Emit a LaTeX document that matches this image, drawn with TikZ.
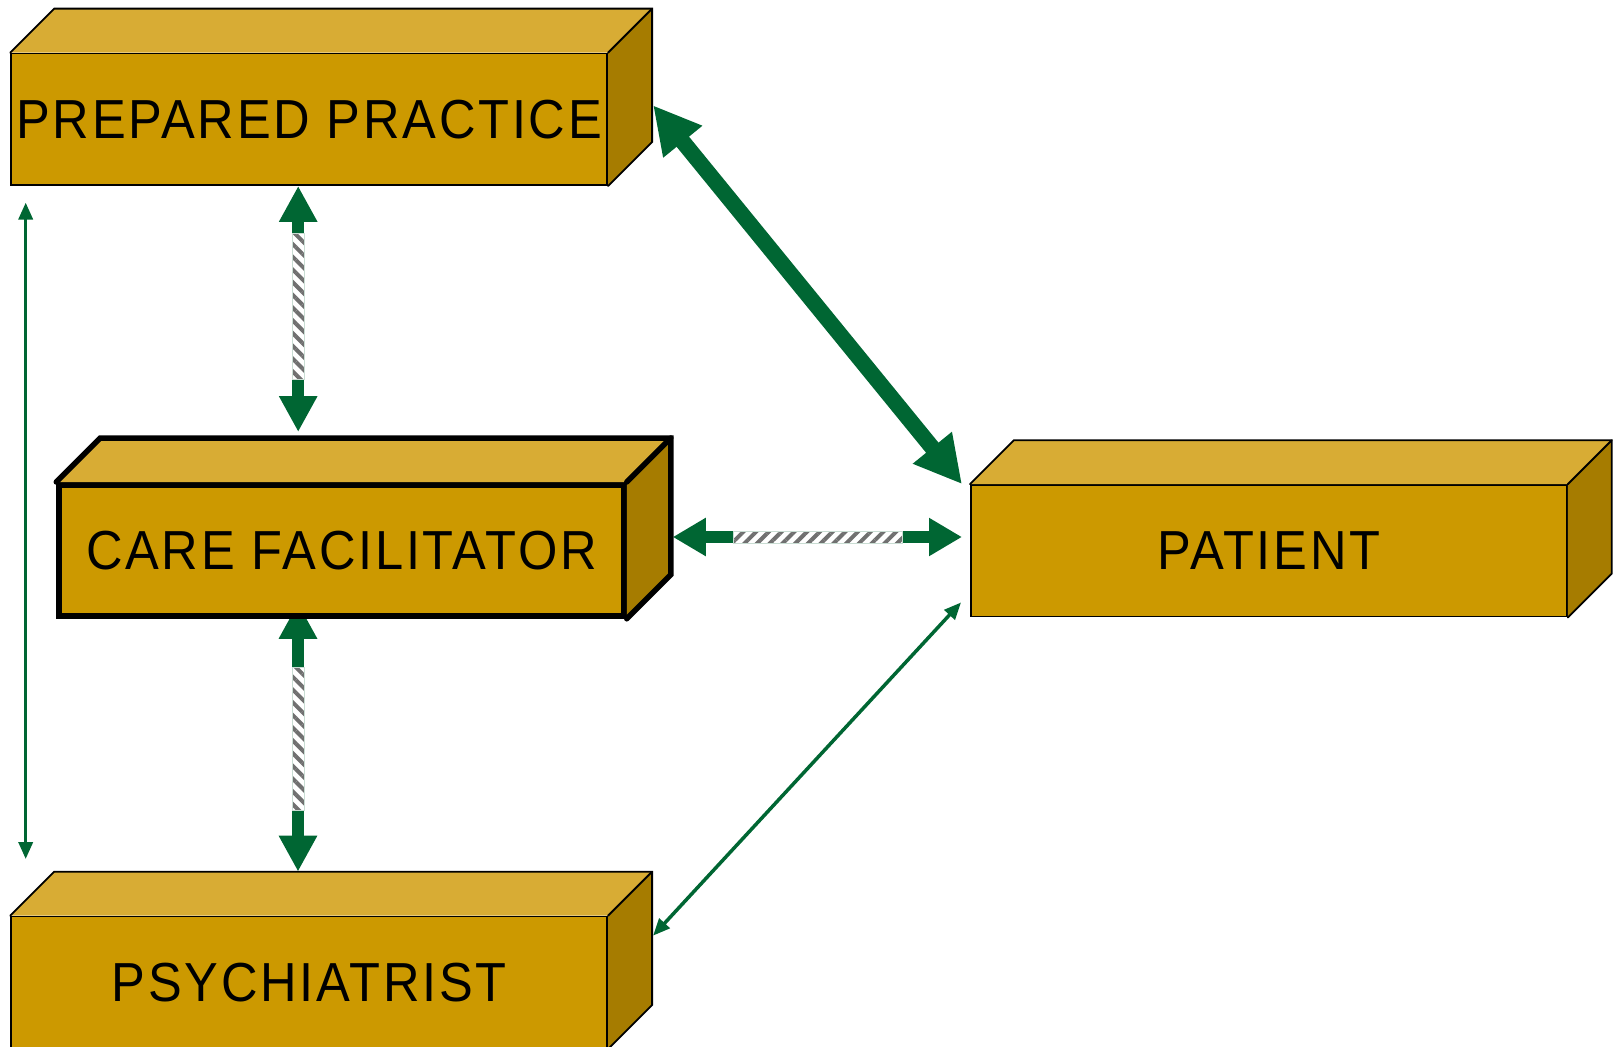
\documentclass[tikz,border=0pt]{standalone}
\usepackage{fontspec}
\setmainfont{Liberation Sans}[FakeStretch=0.92,LetterSpace=5]
\usepackage{tikz}
\usetikzlibrary{arrows.meta,calc,backgrounds,patterns.meta}
\definecolor{gold}{HTML}{CC9900}
\definecolor{goldtop}{HTML}{D8AC34}
\definecolor{goldside}{HTML}{A67C00}
\definecolor{pine}{HTML}{006633}
\definecolor{stripe}{HTML}{707070}
\definecolor{rim}{HTML}{C9DDD3}
\tikzset{
  every node/.style={font=\fontsize{55}{60}\selectfont,text=black},
  block/.style={draw=black,line width=1.8pt,fill=gold,minimum width=596pt,minimum height=131.5pt,inner sep=0pt},
  keyblock/.style={block,line width=5.5pt,minimum width=565pt,minimum height=131.3pt},
  topface/.style={fill=goldtop},
  sideface/.style={fill=goldside},
  rimline/.style={draw=black,line join=miter,line cap=round},
  linkarr/.style={{Triangle[length=36pt,width=36pt]}-{Triangle[length=36pt,width=36pt]},line width=12pt,draw=pine},
  sidearr/.style={{Triangle[length=33pt,width=36pt]}-{Triangle[length=33pt,width=36pt]},line width=12pt,draw=pine},
  mainarr/.style={{Triangle[length=47pt,width=47pt]}-{Triangle[length=47pt,width=47pt]},line width=16pt,draw=pine},
  thinarr/.style={{Triangle[length=17pt,width=14pt]}-{Triangle[length=17pt,width=14pt]},line width=3.5pt,draw=pine},
  vhatch/.style={draw=rim,line width=1pt,preaction={fill=white},pattern={Lines[angle=-45,distance=9pt,line width=4pt]},pattern color=stripe},
  hhatch/.style={vhatch,pattern={Lines[angle=45,distance=9pt,line width=4pt]}}
}
\begin{document}
\begin{tikzpicture}[x=1pt,y=-1pt]
  \useasboundingbox (0,0) rectangle (1613,1046);

  \node[block] (prep) at (309.2,119.3) {PREPARED PRACTICE};
  \node[keyblock] (care) at (341.5,550.4) {CARE FACILITATOR};
  \node[block] (patient) at (1268.9,550.8) {PATIENT};
  \node[block] (psych) at (309.2,982.3) {PSYCHIATRIST};

  \foreach \n/\w in {prep/1.8pt,care/5.5pt,patient/1.8pt,psych/1.8pt}{
    \fill[topface] (\n.north west) -- ++(44,-44) -- ($(\n.north east)+(44,-44)$) -- (\n.north east) -- cycle;
    \fill[sideface] (\n.north east) -- ++(44,-44) -- ($(\n.south east)+(44,-44)$) -- (\n.south east) -- cycle;
    \draw[rimline,line width=\w] (\n.north west) -- ++(44,-44) -- ($(\n.north east)+(44,-44)$) -- ($(\n.south east)+(44,-44)$) -- (\n.south east);
    \draw[rimline,line width=\w] (\n.north east) -- ++(44,-44);
  }

  \coordinate (pp-foot) at ($(prep.south)+(-11,0)$);
  \coordinate (care-top) at ($(care.north)+(22,-46)$);
  \coordinate (cf-foot) at ($(care.south)+(-43.5,-16)$);
  \coordinate (psych-top) at ($(psych.north)+(22,-44)$);
  \coordinate (cf-side) at ($(care.east)+(46,-13.4)$);
  \coordinate (pp-side) at ($(prep.east)+(45,-14)$);
  \coordinate (pt-corner) at ($(patient.north west)+(-8,0)$);
  \coordinate (ps-side) at ($(psych.north east)+(45,20)$);
  \coordinate (pt-low) at ($(patient.south west)+(-9,-15)$);
  \coordinate (pp-left) at ($(prep.south west)+(15.4,16.6)$);
  \coordinate (ps-left) at ($(psych.north west)+(15.4,-56.6)$);

  \begin{scope}[on background layer]
    \draw[linkarr,shorten >=4pt] (pp-foot) -- (pp-foot |- care-top);
    \draw[vhatch] ($(pp-foot)+(-6,48)$) rectangle ($(pp-foot |- care-top)+(6,-57)$);

    \draw[linkarr] (cf-foot) -- (cf-foot |- psych-top);
    \draw[vhatch] ($(cf-foot)+(-6,65)$) rectangle ($(cf-foot |- psych-top)+(6,-61)$);

    \draw[sidearr,shorten >=8pt] (cf-side) -- (cf-side -| patient.west);
    \draw[hhatch] ($(cf-side)+(61,-6)$) rectangle ($(cf-side -| patient.west)+(-68,6)$);

    \draw[mainarr] (pp-side) -- (pt-corner);
    \draw[thinarr] (ps-side) -- (pt-low);
    \draw[thinarr] (pp-left) -- (ps-left);
  \end{scope}
\end{tikzpicture}
\end{document}
